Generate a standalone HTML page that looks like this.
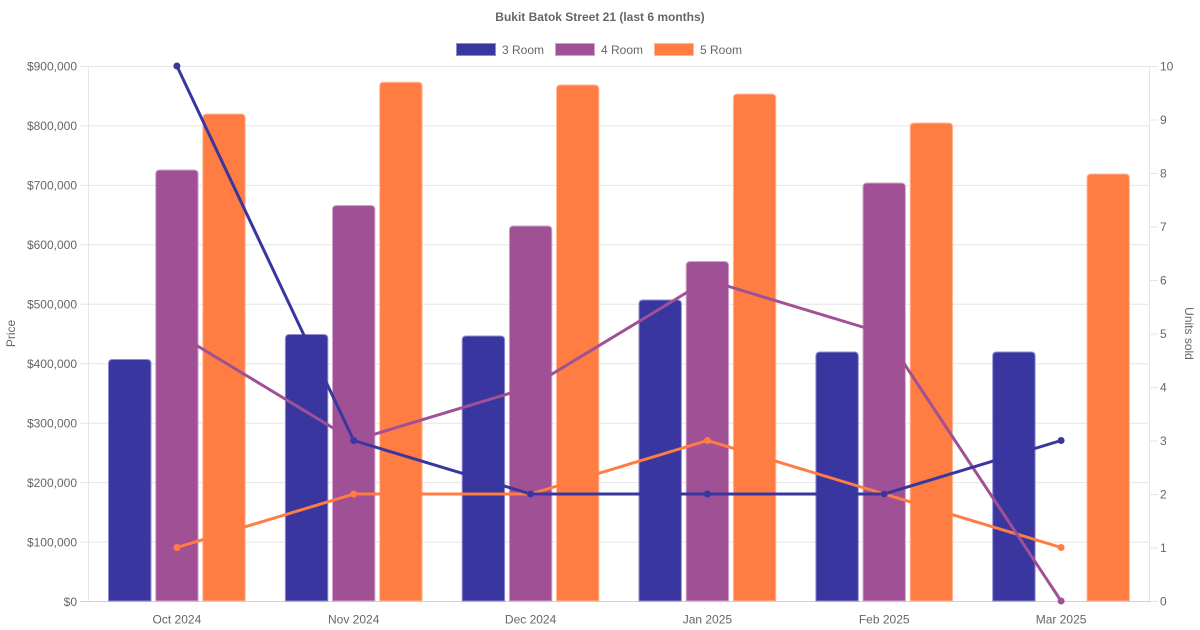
<!DOCTYPE html>
<html>
<head>
<meta charset="utf-8">
<style>
html,body{margin:0;padding:0;background:#fff;}
svg{display:block;}
text{font-family:"Liberation Sans",Arial,sans-serif;fill:#666;font-size:12px;}
</style>
</head>
<body>
<svg width="1200" height="630" viewBox="0 0 1200 630" xmlns="http://www.w3.org/2000/svg">
<rect width="1200" height="630" fill="#fff"/>
<!-- title -->
<text x="600" y="21" text-anchor="middle" font-weight="bold">Bukit Batok Street 21 (last 6 months)</text>
<!-- legend -->
<rect x="456.5" y="43.5" width="39" height="12" fill="#3a36a0" stroke="#8d8ad0" stroke-width="1"/>
<text x="502" y="54">3 Room</text>
<rect x="555.5" y="43.5" width="39" height="12" fill="#a05195" stroke="#cfa2c7" stroke-width="1"/>
<text x="601" y="54">4 Room</text>
<rect x="654.5" y="43.5" width="39" height="12" fill="#ff7c43" stroke="#ffb894" stroke-width="1"/>
<text x="700" y="54">5 Room</text>

<!-- gridlines -->
<g stroke="#e5e5e5" stroke-width="1">
<line x1="80" x2="1149" y1="66.5" y2="66.5"/>
<line x1="80" x2="1149" y1="125.9" y2="125.9"/>
<line x1="80" x2="1149" y1="185.4" y2="185.4"/>
<line x1="80" x2="1149" y1="244.8" y2="244.8"/>
<line x1="80" x2="1149" y1="304.3" y2="304.3"/>
<line x1="80" x2="1149" y1="363.7" y2="363.7"/>
<line x1="80" x2="1149" y1="423.2" y2="423.2"/>
<line x1="80" x2="1149" y1="482.6" y2="482.6"/>
<line x1="80" x2="1149" y1="542.1" y2="542.1"/>
<line x1="88.5" x2="88.5" y1="66" y2="601"/>
<line x1="1149.5" x2="1149.5" y1="66" y2="601"/>
<!-- right ticks -->
<line x1="1149.5" x2="1158" y1="66.5" y2="66.5"/>
<line x1="1149.5" x2="1158" y1="120" y2="120"/>
<line x1="1149.5" x2="1158" y1="173.5" y2="173.5"/>
<line x1="1149.5" x2="1158" y1="227" y2="227"/>
<line x1="1149.5" x2="1158" y1="280.5" y2="280.5"/>
<line x1="1149.5" x2="1158" y1="334" y2="334"/>
<line x1="1149.5" x2="1158" y1="387.5" y2="387.5"/>
<line x1="1149.5" x2="1158" y1="441" y2="441"/>
<line x1="1149.5" x2="1158" y1="494.5" y2="494.5"/>
<line x1="1149.5" x2="1158" y1="548" y2="548"/>
<line x1="1149.5" x2="1158" y1="601.5" y2="601.5"/>
</g>
<line x1="80" x2="1150" y1="601.5" y2="601.5" stroke="#d0d0d0" stroke-width="1"/>

<!-- left tick labels -->
<g text-anchor="end">
<text x="77" y="70.5">$900,000</text>
<text x="77" y="130">$800,000</text>
<text x="77" y="189.5">$700,000</text>
<text x="77" y="249">$600,000</text>
<text x="77" y="308.5">$500,000</text>
<text x="77" y="368">$400,000</text>
<text x="77" y="427.5">$300,000</text>
<text x="77" y="487">$200,000</text>
<text x="77" y="546.5">$100,000</text>
<text x="77" y="606">$0</text>
</g>
<!-- right tick labels -->
<g text-anchor="start">
<text x="1160" y="70.5">10</text>
<text x="1160" y="124">9</text>
<text x="1160" y="177.5">8</text>
<text x="1160" y="231">7</text>
<text x="1160" y="284.5">6</text>
<text x="1160" y="338">5</text>
<text x="1160" y="391.5">4</text>
<text x="1160" y="445">3</text>
<text x="1160" y="498.5">2</text>
<text x="1160" y="552">1</text>
<text x="1160" y="605.5">0</text>
</g>
<!-- axis titles -->
<text transform="translate(15,333.5) rotate(-90)" text-anchor="middle">Price</text>
<text transform="translate(1185,333.5) rotate(90)" text-anchor="middle">Units sold</text>
<!-- x labels -->
<g text-anchor="middle">
<text x="176.9" y="623.5">Oct 2024</text>
<text x="353.7" y="623.5">Nov 2024</text>
<text x="530.6" y="623.5">Dec 2024</text>
<text x="707.4" y="623.5">Jan 2025</text>
<text x="884.2" y="623.5">Feb 2025</text>
<text x="1061.1" y="623.5">Mar 2025</text>
</g>

<!-- bars 3 Room -->
<g fill="#3a36a0" stroke="#8f8cd2" stroke-width="1">
<path d="M108.5,601 V363.5 Q108.5,359.5 112.5,359.5 H147 Q151,359.5 151,363.5 V601 Z"/>
<path d="M285.4,601 V338.5 Q285.4,334.5 289.4,334.5 H323.8 Q327.8,334.5 327.8,338.5 V601 Z"/>
<path d="M462.2,601 V340 Q462.2,336 466.2,336 H500.6 Q504.6,336 504.6,340 V601 Z"/>
<path d="M639,601 V304 Q639,300 643,300 H677.4 Q681.4,300 681.4,304 V601 Z"/>
<path d="M815.9,601 V356 Q815.9,352 819.9,352 H854.3 Q858.3,352 858.3,356 V601 Z"/>
<path d="M992.7,601 V356 Q992.7,352 996.7,352 H1031.1 Q1035.1,352 1035.1,356 V601 Z"/>
</g>
<!-- bars 4 Room -->
<g fill="#a05195" stroke="#d2a6cb" stroke-width="1">
<path d="M155.7,601 V174 Q155.7,170 159.7,170 H194.1 Q198.1,170 198.1,174 V601 Z"/>
<path d="M332.5,601 V209.5 Q332.5,205.5 336.5,205.5 H370.9 Q374.9,205.5 374.9,209.5 V601 Z"/>
<path d="M509.4,601 V230 Q509.4,226 513.4,226 H547.8 Q551.8,226 551.8,230 V601 Z"/>
<path d="M686.2,601 V265.5 Q686.2,261.5 690.2,261.5 H724.6 Q728.6,261.5 728.6,265.5 V601 Z"/>
<path d="M863,601 V187 Q863,183 867,183 H901.4 Q905.4,183 905.4,187 V601 Z"/>
</g>
<!-- bars 5 Room -->
<g fill="#ff7c43" stroke="#ffba98" stroke-width="1">
<path d="M202.8,601 V118 Q202.8,114 206.8,114 H241.2 Q245.2,114 245.2,118 V601 Z"/>
<path d="M379.7,601 V86.2 Q379.7,82.2 383.7,82.2 H418.1 Q422.1,82.2 422.1,86.2 V601 Z"/>
<path d="M556.5,601 V89 Q556.5,85 560.5,85 H594.9 Q598.9,85 598.9,89 V601 Z"/>
<path d="M733.4,601 V98 Q733.4,94 737.4,94 H771.8 Q775.8,94 775.8,98 V601 Z"/>
<path d="M910.2,601 V127 Q910.2,123 914.2,123 H948.6 Q952.6,123 952.6,127 V601 Z"/>
<path d="M1087,601 V178 Q1087,174 1091,174 H1125.4 Q1129.4,174 1129.4,178 V601 Z"/>
</g>

<!-- lines -->
<g fill="none" stroke-width="3" stroke-linejoin="round">
<polyline stroke="#ff7c43" points="176.9,547.5 353.7,494 530.6,494 707.4,440.5 884.2,494 1061.1,547.5"/>
<polyline stroke="#a05195" points="176.9,333.5 353.7,440.5 530.6,387 707.4,280 884.2,333.5 1061.1,601"/>
<polyline stroke="#3a36a0" points="176.9,66 353.7,440.5 530.6,494 707.4,494 884.2,494 1061.1,440.5"/>
</g>
<g fill="#ff7c43">
<circle cx="176.9" cy="547.5" r="3.5"/><circle cx="353.7" cy="494" r="3.5"/><circle cx="530.6" cy="494" r="3.5"/>
<circle cx="707.4" cy="440.5" r="3.5"/><circle cx="884.2" cy="494" r="3.5"/><circle cx="1061.1" cy="547.5" r="3.5"/>
</g>
<g fill="#a05195">
<circle cx="176.9" cy="333.5" r="3.5"/><circle cx="353.7" cy="440.5" r="3.5"/><circle cx="530.6" cy="387" r="3.5"/>
<circle cx="707.4" cy="280" r="3.5"/><circle cx="884.2" cy="333.5" r="3.5"/><circle cx="1061.1" cy="601" r="3.5"/>
</g>
<g fill="#3a36a0">
<circle cx="176.9" cy="66" r="3.5"/><circle cx="353.7" cy="440.5" r="3.5"/><circle cx="530.6" cy="494" r="3.5"/>
<circle cx="707.4" cy="494" r="3.5"/><circle cx="884.2" cy="494" r="3.5"/><circle cx="1061.1" cy="440.5" r="3.5"/>
</g>
</svg>
</body>
</html>
